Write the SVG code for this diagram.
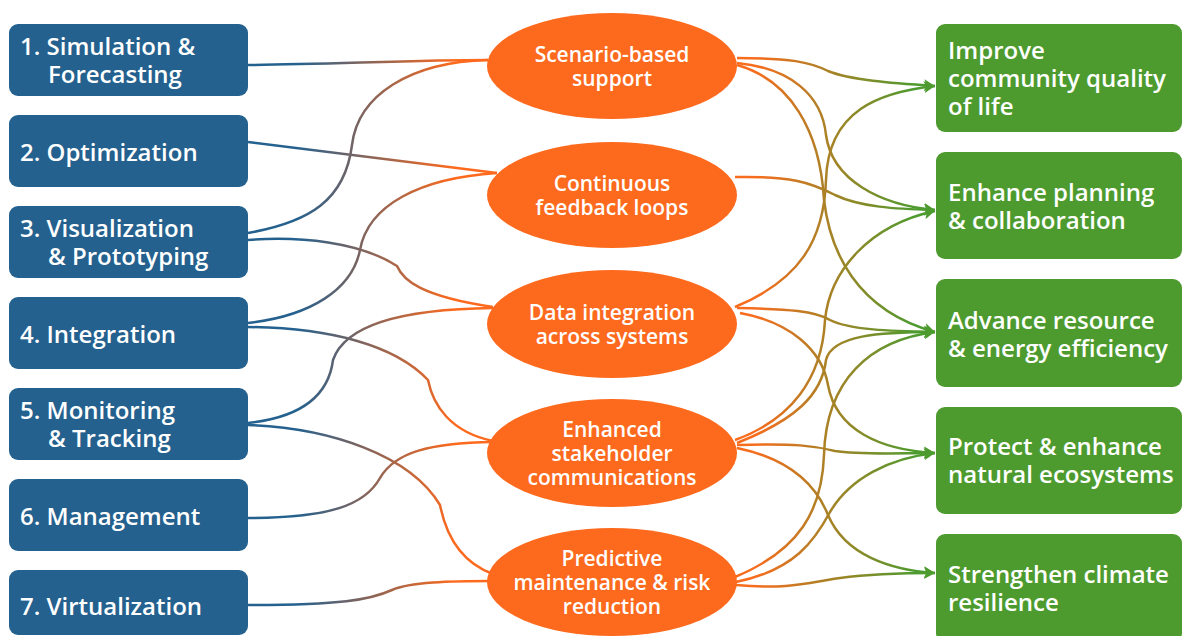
<svg xmlns="http://www.w3.org/2000/svg" width="1182" height="636" viewBox="0 0 1182 636">
<style>
.lb{fill:#24618E}
.el{fill:#FD691D}
.gb{fill:#4D9B2F}
text{font-family:"Open Sans","Noto Sans","Liberation Sans",sans-serif;font-weight:600;fill:#fff}
.lt{font-size:24px}
.mt{font-size:21px;text-anchor:middle}
.rt{font-size:24px}
.cl{fill:none;stroke:url(#gl);stroke-width:2.5}
.cr{fill:none;stroke:url(#gr);stroke-width:2.5;marker-end:url(#ah)}
</style>
<defs>
<linearGradient id="gl" gradientUnits="userSpaceOnUse" x1="248" y1="0" x2="490" y2="0">
<stop offset="0.2" stop-color="#24618E"/>
<stop offset="0.85" stop-color="#FD691D"/>
</linearGradient>
<linearGradient id="gr" gradientUnits="userSpaceOnUse" x1="738" y1="0" x2="935" y2="0">
<stop offset="0.08" stop-color="#F86C1E"/>
<stop offset="0.9" stop-color="#4D9B2F"/>
</linearGradient>
<marker id="ah" markerUnits="userSpaceOnUse" markerWidth="12" markerHeight="12" refX="11" refY="6" orient="auto">
<path d="M0,0 L11,6 L0,12 L2.5,6 z" fill="#4D9B2F"/>
</marker>
</defs>
<g id="connectors">
<path class="cl" d="M248,65 C330,64 420,60 488,60"/>
<path class="cl" d="M248,142 L497,173"/>
<path class="cl" d="M248,233 C310,222 345,200 352,145 C358,95 410,62 488,60"/>
<path class="cl" d="M248,240 C300,236 360,242 397,266 C403,280 420,296 493,307"/>
<path class="cl" d="M248,323 C310,316 352,290 360,250 C368,205 420,178 497,173"/>
<path class="cl" d="M248,327 C330,328 395,345 428,380 C433,405 450,432 493,441"/>
<path class="cl" d="M248,423 C295,418 328,400 333,360 C345,325 400,309 493,308"/>
<path class="cl" d="M248,425 C330,428 410,455 440,505 C446,535 460,562 493,574"/>
<path class="cl" d="M248,518 C330,518 365,505 380,478 C395,452 430,443 493,442"/>
<path class="cl" d="M248,605 C340,605 370,600 392,590 C410,582 450,581 493,581"/>
<path class="cr" d="M737,58 C790,58 810,62 828,71 C850,80 890,83 935,86"/>
<path class="cr" d="M737,63 C790,68 822,95 826,135 C832,180 880,205 935,210"/>
<path class="cr" d="M737,65 C790,80 820,130 824,200 C830,250 855,310 935,332"/>
<path class="cr" d="M735,177 C790,176 810,182 835,195 C860,207 895,209 935,210"/>
<path class="cr" d="M735,307 C800,280 824,240 826,180 C828,110 880,92 935,86"/>
<path class="cr" d="M737,308 C790,309 815,311 830,320 C850,330 890,331 935,332"/>
<path class="cr" d="M740,313 C790,322 822,350 828,385 C836,430 880,450 935,453"/>
<path class="cr" d="M735,440 C790,420 822,380 825,320 C830,270 870,225 935,211"/>
<path class="cr" d="M737,443 C795,420 822,395 826,360 C832,335 880,332 935,332"/>
<path class="cr" d="M737,445 C795,443 815,446 835,451 C860,455 900,453 935,453"/>
<path class="cr" d="M737,448 C795,460 818,490 828,515 C845,555 890,570 935,573"/>
<path class="cr" d="M735,577 C800,550 822,510 824,455 C826,380 870,340 935,332"/>
<path class="cr" d="M736,582 C795,570 815,540 830,512 C850,478 890,458 935,453"/>
<path class="cr" d="M736,585 C790,590 810,582 840,578 C870,574 900,573 935,573"/>
</g>
<g id="l1"><rect class="lb" x="9" y="24" width="239" height="72" rx="9"/><text class="lt" x="20" y="55">1. Simulation &amp;<tspan x="48" dy="28">Forecasting</tspan></text></g>
<g id="l2"><rect class="lb" x="9" y="115" width="239" height="72" rx="9"/><text class="lt" x="20" y="161">2. Optimization</text></g>
<g id="l3"><rect class="lb" x="9" y="206" width="239" height="72" rx="9"/><text class="lt" x="20" y="237">3. Visualization<tspan x="48" dy="28">&amp; Prototyping</tspan></text></g>
<g id="l4"><rect class="lb" x="9" y="297" width="239" height="72" rx="9"/><text class="lt" x="20" y="343">4. Integration</text></g>
<g id="l5"><rect class="lb" x="9" y="388" width="239" height="72" rx="9"/><text class="lt" x="20" y="419">5. Monitoring<tspan x="48" dy="28">&amp; Tracking</tspan></text></g>
<g id="l6"><rect class="lb" x="9" y="479" width="239" height="72" rx="9"/><text class="lt" x="20" y="525">6. Management</text></g>
<g id="l7"><rect class="lb" x="9" y="570" width="239" height="65" rx="9"/><text class="lt" x="20" y="615">7. Virtualization</text></g>
<g id="m1"><ellipse class="el" cx="612" cy="66" rx="125" ry="53"/><text class="mt" x="612" y="62">Scenario-based<tspan x="612" dy="24">support</tspan></text></g>
<g id="m2"><ellipse class="el" cx="612" cy="195" rx="125" ry="53"/><text class="mt" x="612" y="191">Continuous<tspan x="612" dy="24">feedback loops</tspan></text></g>
<g id="m3"><ellipse class="el" cx="612" cy="324" rx="125" ry="54"/><text class="mt" x="612" y="320">Data integration<tspan x="612" dy="24">across systems</tspan></text></g>
<g id="m4"><ellipse class="el" cx="612" cy="453" rx="125" ry="54"/><text class="mt" x="612" y="437">Enhanced<tspan x="612" dy="24">stakeholder</tspan><tspan x="612" dy="24">communications</tspan></text></g>
<g id="m5"><ellipse class="el" cx="612" cy="582" rx="125" ry="54"/><text class="mt" x="612" y="566">Predictive<tspan x="612" dy="24">maintenance &amp; risk</tspan><tspan x="612" dy="24">reduction</tspan></text></g>
<g id="r1"><rect class="gb" x="936" y="24" width="246" height="108" rx="9"/><text class="rt" x="948" y="59">Improve<tspan x="948" dy="28">community quality</tspan><tspan x="948" dy="28">of life</tspan></text></g>
<g id="r2"><rect class="gb" x="936" y="152" width="246" height="107" rx="9"/><text class="rt" x="948" y="201">Enhance planning<tspan x="948" dy="28">&amp; collaboration</tspan></text></g>
<g id="r3"><rect class="gb" x="936" y="279" width="246" height="108" rx="9"/><text class="rt" x="948" y="329">Advance resource<tspan x="948" dy="28">&amp; energy efficiency</tspan></text></g>
<g id="r4"><rect class="gb" x="936" y="407" width="246" height="107" rx="9"/><text class="rt" x="948" y="455">Protect &amp; enhance<tspan x="948" dy="28">natural ecosystems</tspan></text></g>
<g id="r5"><rect class="gb" x="936" y="534" width="246" height="108" rx="9"/><text class="rt" x="948" y="583">Strengthen climate<tspan x="948" dy="28">resilience</tspan></text></g>
</svg>
